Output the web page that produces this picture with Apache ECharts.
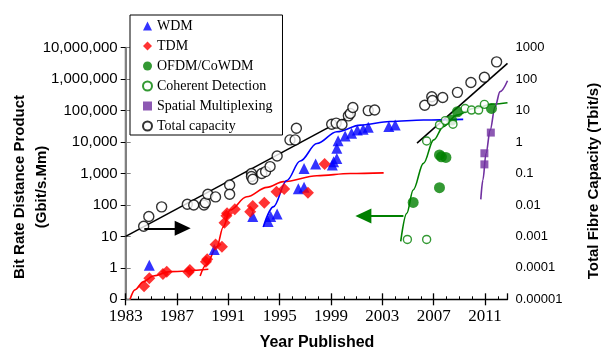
<!DOCTYPE html>
<html>
<head>
<meta charset="utf-8">
<script src="https://cdn.jsdelivr.net/npm/echarts@6/dist/echarts.min.js"></script>
<style>
  html, body { margin: 0; padding: 0; background: #fff; }
  #chart { width: 604px; height: 351px; }
</style>
</head>
<body>
<div id="chart"></div>
<script>
// values: [year, value]
// left axis: Gbit/s.Mm, right axis: Tbit/s
const wdm = [
  [1984.84, 1.2], [1989.9, 3.8], [1992.9, 43], [1994.1, 30], [1994.3, 43], [1994.8, 52],
  [1996.45, 330], [1996.9, 363], [1996.9, 1450], [1997.8, 2000], [1999.1, 1860],
  [1999.2, 2370], [1999.45, 3000], [1999.45, 6300], [1999.55, 11000], [2000.1, 15500],
  [2000.6, 19000], [2001.05, 24000], [2001.5, 25500], [2001.9, 29500], [2003.5, 31000],
  [2004.0, 35000]
];
const tdm = [
  [1984.43, 0.26], [1984.84, 0.47], [1985.9, 0.64], [1986.2, 0.75], [1987.9, 0.72],
  [1988.0, 0.85], [1989.25, 1.57], [1989.35, 1.87], [1990.0, 5.5], [1990.5, 4.7],
  [1990.7, 27], [1990.85, 45], [1990.9, 54], [1991.5, 73], [1992.7, 61], [1992.9, 93],
  [1993.8, 117], [1994.75, 263], [1995.35, 320], [1997.2, 245], [1998.5, 1990]
];
const ofdm = [
  [2005.4, 120], [2007.45, 355], [2007.45, 3900], [2007.6, 3400], [2007.95, 3250],
  [2008.4, 50000], [2008.85, 92000], [2011.5, 117000]
];
const coherent = [
  [2004.95, 8], [2006.45, 8], [2006.45, 10800], [2007.45, 35000], [2007.9, 48000],
  [2008.5, 37000], [2009.45, 117000], [2009.95, 104000], [2010.5, 104000], [2010.95, 158000]
];
const spatial = [[2010.95, 4400], [2010.95, 1950], [2011.45, 20000]];
const totalCap = [
  [1984.4, 0.0021], [1984.8, 0.0043], [1985.8, 0.0087], [1987.8, 0.0105], [1988.3, 0.01],
  [1989.1, 0.01], [1989.2, 0.0117], [1989.4, 0.022], [1990.0, 0.018], [1991.1, 0.043],
  [1991.1, 0.022], [1992.8, 0.1], [1992.8, 0.08], [1992.9, 0.066], [1993.6, 0.1],
  [1993.9, 0.115], [1994.25, 0.166], [1994.8, 0.36], [1995.8, 1.17], [1996.2, 1.17],
  [1996.3, 2.75], [1999.05, 3.7], [1999.4, 4.0], [1999.85, 3.6], [2000.35, 6.8],
  [2000.5, 8.1], [2000.7, 12.6], [2001.9, 10], [2002.4, 10.5], [2006.3, 14.8],
  [2006.85, 27.5], [2006.9, 21], [2007.7, 26], [2008.85, 38], [2009.9, 78],
  [2010.95, 115], [2011.9, 355]
];

// fitted curves
const tdmFitA = [[1983.34, 0.1], [1983.72, 0.2], [1984.37, 0.36], [1985.15, 0.55], [1986.45, 0.76], [1989.44, 0.9]];
const tdmFitB = [
  [1988.8, 0.55], [1989.26, 1.23], [1990.1, 4.7], [1990.6, 20], [1991.13, 69], [1992.43, 182],
  [1994.0, 363], [1995.3, 550], [1997.9, 850], [2000.5, 1000], [2003.1, 1050]
];
const wdmFit = [
  [1993.72, 20], [1994.5, 87], [1995.55, 600], [1996.6, 2500], [1997.9, 9000], [1999.45, 21300],
  [2001.3, 34500], [2003.6, 45000], [2006.2, 50000], [2009.3, 52500]
];
const greenFit = [
  [2004.43, 7], [2004.9, 54], [2005.4, 300], [2006.2, 2100], [2007.0, 11700], [2007.75, 31000],
  [2008.8, 72000], [2010.1, 117000], [2011.65, 162000], [2012.75, 178000]
];
const purpleFit = [
  [2010.67, 150], [2010.83, 620], [2011.08, 4400], [2011.4, 24000], [2011.78, 132000],
  [2012.17, 400000], [2012.75, 890000]
];
const totalFitA = [[1983, 0.001], [2000.7, 7.6]];
const totalFitB = [[2005.7, 0.92], [2012.75, 316]];

// arrows showing which axis to read
const blackArrow = [[1984.45, 0.0018], [1987.44, 0.0018]];
const greenArrow = [[2004.64, 44.6], [2001.52, 44.6]];

const firstYear = 1983;
const lastYear = 2012.75;
const yearTicks = 4;

const legendNames = ['WDM', 'TDM', 'OFDM/CoWDM', 'Coherent Detection', 'Spatial Multiplexing', 'Total capacity'];

const chart = echarts.init(document.getElementById('chart'));

// x values are offsets from 1983 so ticks land on 1983, 1987, ...
const shift = (arr) => arr.map(([yr, v]) => [yr - firstYear, v]);

const withCommas = (n) => String(n).replace(/\B(?=(\d{3})+(?!\d))/g, ',');

function scatter(name, data, symbol, size, color, yIdx, empty) {
  return {
    name,
    type: 'scatter',
    yAxisIndex: yIdx,
    data: shift(data),
    symbol,
    symbolSize: size,
    itemStyle: empty
      ? { color: '#fff', borderColor: color, borderWidth: 1.4 }
      : { color },
    z: 3,
  };
}

function fit(name, data, color, yIdx, arrow) {
  const s = {
    name,
    type: 'line',
    yAxisIndex: yIdx,
    data: shift(data),
    smooth: 0.35,
    smoothMonotone: 'x',
    showSymbol: false,
    lineStyle: { color, width: 1.6 },
    itemStyle: { color },
    silent: true,
    z: 2,
  };
  if (arrow) {
    s.markLine = {
      silent: true,
      symbol: ['none', 'triangle'],
      symbolSize: [15, 16],
      label: { show: false },
      lineStyle: { color, width: 2.2, type: 'solid' },
      data: [[{ coord: [arrow[0][0] - firstYear, arrow[0][1]] }, { coord: [arrow[1][0] - firstYear, arrow[1][1]] }]],
    };
  }
  return s;
}

const option = {
  animation: false,
  backgroundColor: '#fff',
  grid: { left: 125.7, right: 96.5, top: 47.7, bottom: 51.7 },
  legend: {
    data: legendNames,
    orient: 'vertical',
    left: 130,
    top: 15,
    padding: [4, 10, 2, 12],
    itemGap: 6,
    itemWidth: 9,
    itemHeight: 9,
    borderColor: '#000',
    borderWidth: 1,
    backgroundColor: '#fff',
    textStyle: { fontFamily: 'Liberation Serif', fontSize: 14, color: '#000' },
  },
  xAxis: [
    {
      type: 'value',
      min: 0,
      max: lastYear - firstYear,
      interval: yearTicks,
      axisLine: { lineStyle: { color: '#000', width: 1.3 } },
      axisTick: { length: 6, lineStyle: { color: '#000', width: 1.3 } },
      axisLabel: {
        formatter: (v) => String(v + firstYear),
        fontFamily: 'Liberation Serif',
        fontSize: 17,
        color: '#000',
        margin: 9,
        showMaxLabel: false,
      },
      splitLine: { show: false },
    },
    {
      type: 'value',
      min: 0,
      max: lastYear - firstYear,
      interval: yearTicks,
      position: 'bottom',
      axisLine: { show: false },
      axisLabel: { show: false },
      axisTick: { inside: true, length: 6, lineStyle: { color: '#000', width: 1.3 } },
      minorTick: { show: true, splitNumber: 4, length: 3, lineStyle: { color: '#000', width: 1 } },
      splitLine: { show: false },
    },
  ],
  yAxis: [
    {
      type: 'log',
      logBase: 10,
      min: 0.1,
      max: 1e7,
      splitNumber: 8,
      axisLine: { show: true, lineStyle: { color: '#000', width: 1.3 } },
      axisTick: { show: true, length: 5, lineStyle: { color: '#000' } },
      axisLabel: {
        formatter: (v) => (v < 0.5 ? '0' : withCommas(Math.round(v))),
        fontFamily: 'Liberation Sans',
        fontSize: 15,
        color: '#000',
        margin: 8,
      },
      splitLine: { show: false },
    },
    {
      type: 'log',
      logBase: 10,
      min: 1e-5,
      max: 1e3,
      splitNumber: 8,
      position: 'right',
      axisLine: { show: true, lineStyle: { color: '#808080', width: 2 } },
      axisTick: { show: true, length: 5, lineStyle: { color: '#808080' } },
      axisLabel: {
        formatter: (v) => {
          if (v >= 1) return String(Math.round(v));
          const d = -Math.round(Math.log10(v));
          return v.toFixed(d);
        },
        fontFamily: 'Liberation Sans',
        fontSize: 13,
        color: '#000',
        margin: 8,
      },
      splitLine: { show: false },
    },
  ],
  graphic: [
    {
      type: 'text', x: 20, y: 187, rotation: Math.PI / 2,
      style: { text: 'Bit Rate Distance Product', font: 'bold 15px "Liberation Sans"', fill: '#000', align: 'center', verticalAlign: 'middle' },
    },
    {
      type: 'text', x: 42, y: 187, rotation: Math.PI / 2,
      style: { text: '(Gbit/s.Mm)', font: 'bold 15px "Liberation Sans"', fill: '#000', align: 'center', verticalAlign: 'middle' },
    },
    {
      type: 'text', x: 594, y: 181, rotation: Math.PI / 2,
      style: { text: 'Total Fibre Capacity (Tbit/s)', font: 'bold 15px "Liberation Sans"', fill: '#000', align: 'center', verticalAlign: 'middle' },
    },
    {
      type: 'text', x: 317, y: 343,
      style: { text: 'Year Published', font: 'bold 16px "Liberation Sans"', fill: '#000', align: 'center', verticalAlign: 'middle' },
    },
  ],
  series: [
    fit('total fit a', totalFitA, '#000', 1, blackArrow),
    fit('total fit b', totalFitB, '#000', 1),
    fit('tdm fit a', tdmFitA, '#ff0000', 0),
    fit('tdm fit b', tdmFitB, '#ff0000', 0),
    fit('wdm fit', wdmFit, '#0000ff', 0),
    fit('green fit', greenFit, '#008000', 0, greenArrow),
    fit('spatial fit', purpleFit, '#7030a0', 0),
    scatter('WDM', wdm, 'triangle', 11, '#0000ff', 0),
    scatter('TDM', tdm, 'diamond', 12, '#ff0000', 0),
    scatter('OFDM/CoWDM', ofdm, 'circle', 11, '#008000', 0),
    scatter('Coherent Detection', coherent, 'circle', 8, '#008000', 0, true),
    scatter('Spatial Multiplexing', spatial, 'rect', 8, '#7030a0', 0),
    scatter('Total capacity', totalCap, 'circle', 10, '#000', 1, true),
  ],
};

chart.setOption(option);
</script>
</body>
</html>
